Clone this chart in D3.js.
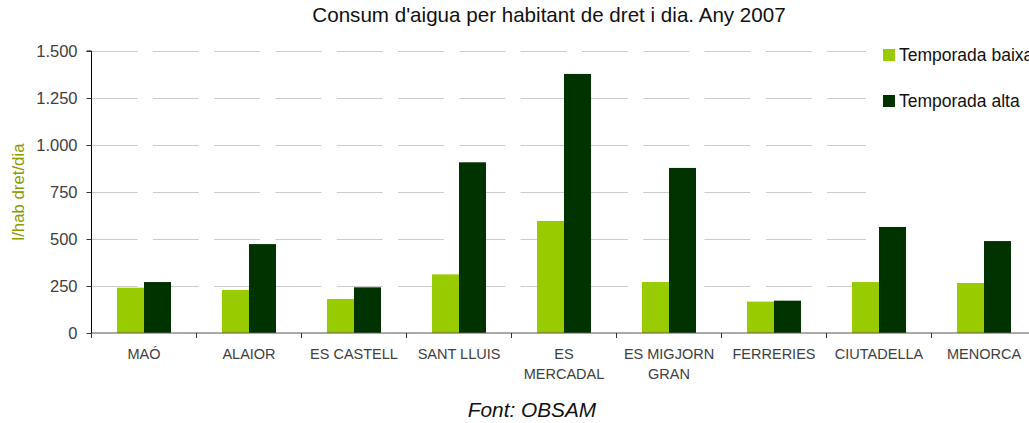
<!DOCTYPE html>
<html><head><meta charset="utf-8">
<script src="https://cdn.jsdelivr.net/npm/d3@7"></script>
<style>
html,body{margin:0;padding:0;background:#fff;}
svg{display:block;font-family:"Liberation Sans",Arial,Helvetica,sans-serif;}
</style></head>
<body><svg id="c" width="1029" height="423"></svg>
<script>
const categories = [["MAÓ"],["ALAIOR"],["ES CASTELL"],["SANT LLUIS"],["ES","MERCADAL"],["ES MIGJORN","GRAN"],["FERRERIES"],["CIUTADELLA"],["MENORCA"]];
const seriesNames = ["Temporada baixa","Temporada alta"];
const baixa = [241, 229, 181, 312, 596, 271, 167, 271, 266];
const alta  = [271, 473, 243, 908, 1378, 878, 172, 564, 489];
const yTicks = [0, 250, 500, 750, 1000, 1250, 1500];
const colors = ["#99cc00", "#003300"];
const title = "Consum d'aigua per habitant de dret i dia. Any 2007";
const yLabel = "l/hab dret/dia";
const footer = "Font: OBSAM";

const svg = d3.select("#c");
const mLeft = 91.5, mTop = 51, mBottom = 333, band = 105;
const x = d3.scaleBand().domain(d3.range(categories.length)).range([mLeft, mLeft + band*categories.length]).paddingInner(0).paddingOuter(0);
const xs = d3.scaleBand().domain([0,1]).range([0, 54]);
const y = d3.scaleLinear().domain([0, 1500]).range([mBottom, mTop]);
const fmt = d3.formatLocale({decimal:",", thousands:".", grouping:[3], currency:["",""]}).format(",d");

// gridlines
svg.append("g").selectAll("line").data(yTicks.slice(1)).join("line")
  .attr("x1", mLeft).attr("x2", 866).attr("y1", d => Math.round(y(d)) + 0.5).attr("y2", d => Math.round(y(d)) + 0.5)
  .attr("stroke", "#cccccc").attr("stroke-width", 1.2).attr("stroke-dasharray", "46,15.3");

// bars
const data = categories.map((c,i) => [baixa[i], alta[i]]);
const g = svg.append("g");
data.forEach((vals, i) => {
  vals.forEach((v, s) => {
    const x0 = x(i) + (band - 54)/2 + xs(s);
    g.append("rect").attr("x", x0).attr("width", xs.bandwidth())
      .attr("y", y(v)).attr("height", y(0) - y(v)).attr("fill", colors[s]);
  });
});

// y axis
const ya = d3.axisLeft(y).tickValues(yTicks).tickFormat(fmt).tickSize(5).tickPadding(9);
const yg = svg.append("g").attr("transform", `translate(${mLeft},0)`).call(ya);
yg.select(".domain").attr("stroke", "#000").attr("d", `M-5,${mTop}H0V${mBottom}`);
yg.selectAll(".tick line").attr("stroke", "#333");
yg.selectAll(".tick text").attr("fill", "#404040").style("font-size", "16.5px").attr("dy", "0.36em");

// x axis
const xa = d3.axisBottom(x).tickSize(0).tickFormat("");
const xg = svg.append("g").attr("transform", `translate(0,${mBottom})`).call(xa);
xg.select(".domain").attr("stroke", "#555").attr("d", `M${mLeft},0H1029`);
xg.selectAll(".tick").remove();
xg.selectAll("line.sep").data(d3.range(categories.length)).join("line").attr("class","sep")
  .attr("x1", i => x(i)).attr("x2", i => x(i)).attr("y1", 0).attr("y2", 5).attr("stroke", "#333");
const lbl = xg.selectAll("text.cat").data(categories).join("text").attr("class","cat")
  .attr("x", (d,i) => x(i) + band/2).attr("y", 26).attr("text-anchor", "middle")
  .attr("fill", "#404040").style("font-size", "14.5px");
lbl.selectAll("tspan").data(d => d).join("tspan")
  .attr("x", function(){ return this.parentNode.getAttribute("x"); })
  .attr("dy", (d,j) => j === 0 ? 0 : 20).text(d => d);

// title
svg.append("text").attr("x", 549).attr("y", 22).attr("text-anchor", "middle")
  .attr("fill", "#111").style("font-size", "20.6px").text(title);

// y label
svg.append("text").attr("transform", "translate(24,192) rotate(-90)").attr("text-anchor", "middle")
  .attr("fill", "#8a9a00").style("font-size", "16.8px").text(yLabel);

// footer
svg.append("text").attr("x", 532).attr("y", 417).attr("text-anchor", "middle")
  .attr("fill", "#111").style("font-size", "20.8px").style("font-style", "italic").text(footer);

// legend
const lg = svg.append("g");
seriesNames.forEach((n, i) => {
  const yy = 49 + i*46;
  lg.append("rect").attr("x", 883).attr("y", yy).attr("width", 12).attr("height", 12).attr("fill", colors[i]);
  lg.append("text").attr("x", 899).attr("y", yy + 12).attr("fill", "#111").style("font-size", "17.5px").text(n);
});
</script></body></html>
